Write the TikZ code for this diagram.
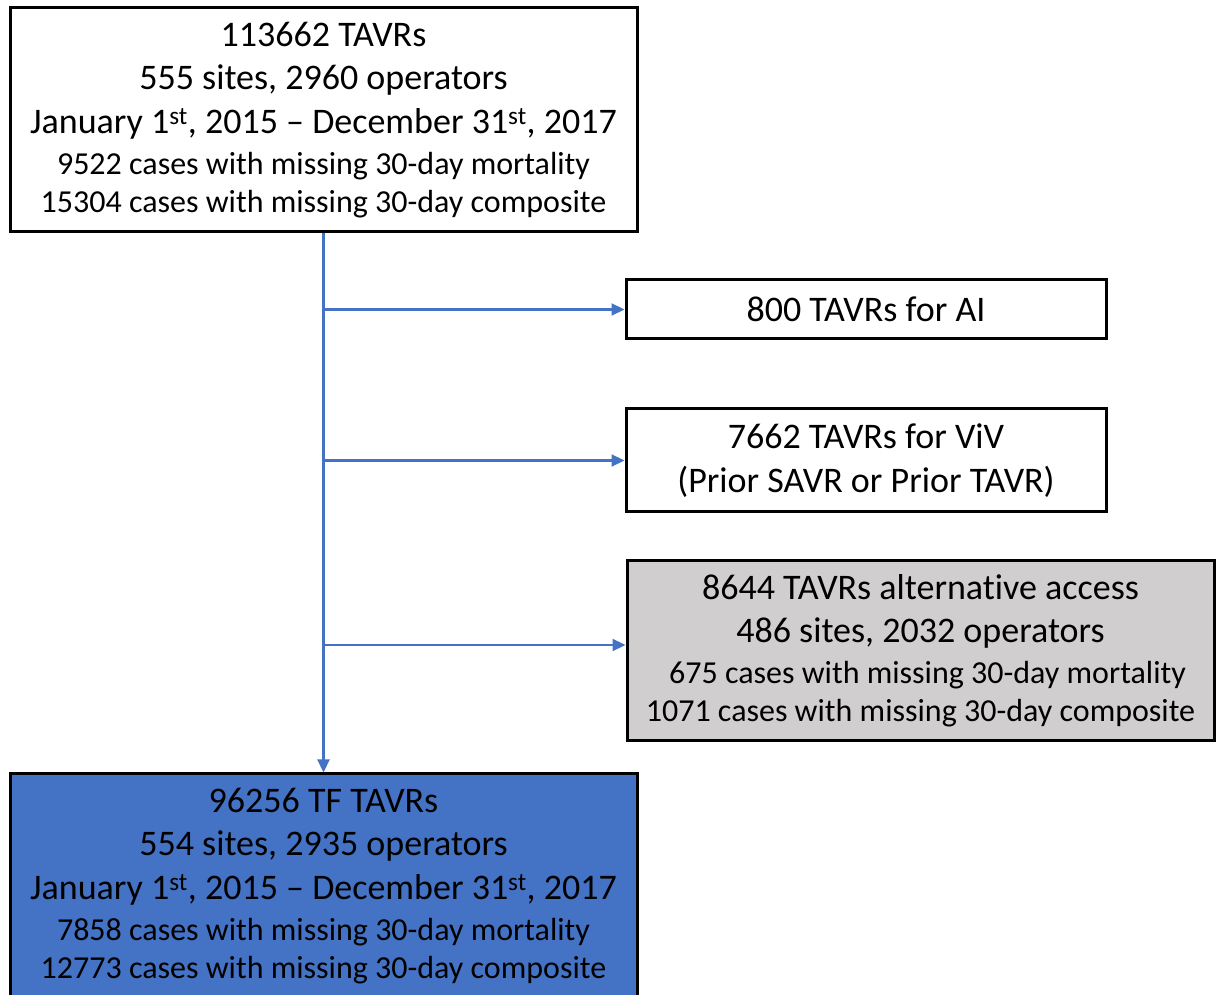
\documentclass[tikz,border=0pt]{standalone}
\usepackage{fontspec}
\setmainfont{Carlito}[Ligatures=NoCommon]
\usepackage{tikz}
\usetikzlibrary{arrows.meta,positioning}

\definecolor{flowblue}{HTML}{4472C4}
\definecolor{altgray}{HTML}{D0CECE}
\newcommand{\bigline}{\fontsize{36}{43.5}\selectfont}
\newcommand{\smallline}{\fontsize{32}{38}\selectfont}

\begin{document}
\begin{tikzpicture}[x=1pt, y=1pt,
    box/.style={rectangle, draw=black, line width=3pt, fill=white, align=center, inner sep=0pt, font=\bigline},
    arrow/.style={-{Triangle[length=13pt,width=12pt]}, draw=flowblue, line width=2.2pt}]

    \useasboundingbox (0,0) rectangle (1216,994);

    \node[box, minimum width=627pt, minimum height=224pt] (total) at (323.5,874) {113662 TAVRs\\
        555 sites, 2960 operators\\
        January 1\textsuperscript{st}, 2015 -- December 31\textsuperscript{st}, 2017\\[-2.5pt]
        {\smallline 9522 cases with missing 30-day mortality}\\[-5.5pt]
        {\smallline 15304 cases with missing 30-day composite}};
    \node[box, fill=flowblue, minimum width=627pt, minimum height=224pt, below=539pt of total] (tf) {96256 TF TAVRs\\
        554 sites, 2935 operators\\
        January 1\textsuperscript{st}, 2015 -- December 31\textsuperscript{st}, 2017\\[-2.5pt]
        {\smallline 7858 cases with missing 30-day mortality}\\[-5.5pt]
        {\smallline 12773 cases with missing 30-day composite}};

    \node[box, minimum width=480pt, minimum height=59pt] (ai) at (866,684.5) {800 TAVRs for AI};
    \node[box, minimum width=480pt, minimum height=103pt] (viv) at (866,533.5) {7662 TAVRs for ViV\\(Prior SAVR or Prior TAVR)};
    \node[box, fill=altgray, minimum width=587pt, minimum height=180pt] (alt) at (920.5,343) {8644 TAVRs alternative access\\
        486 sites, 2032 operators\\[-2.5pt]
        {\smallline \hspace*{14pt}675 cases with missing 30-day mortality}\\[-5.5pt]
        {\smallline 1071 cases with missing 30-day composite}};
    \coordinate (altin) at ([yshift=6pt]alt.west);

    \draw[arrow] (total.south) -- (total.south |- tf.north);
    \draw[arrow] (total.south |- ai.west) -- (ai.west);
    \draw[arrow] (total.south |- viv.west) -- (viv.west);
    \draw[arrow] (total.south |- altin) -- (altin);
\end{tikzpicture}
\end{document}
